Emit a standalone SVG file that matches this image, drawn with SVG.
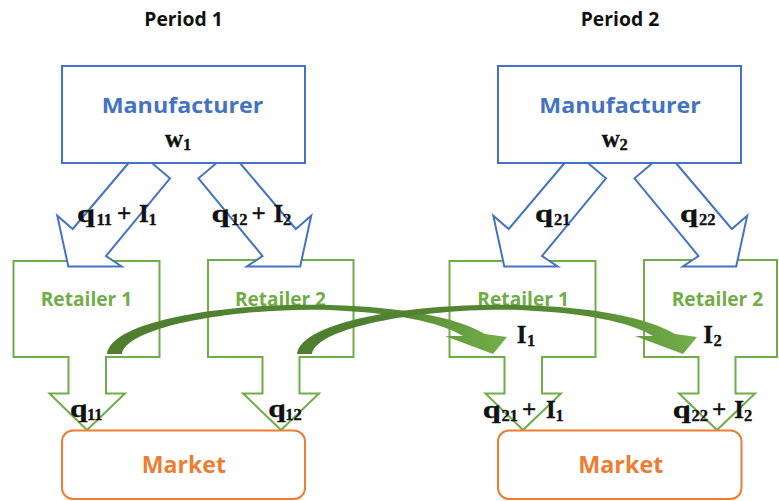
<svg xmlns="http://www.w3.org/2000/svg" width="779" height="501" viewBox="0 0 779 501">
<style>
.mfr{fill:#fff;stroke:#4472C4;stroke-width:2}
.blk{fill:#fff;stroke:#4472C4;stroke-width:2;stroke-linejoin:miter}
.ret{fill:#fff;stroke:#70AD47;stroke-width:2}
.mkt{fill:#fff;stroke:#ED7D31;stroke-width:2}
.hd{font-family:"Open Sans","Liberation Sans",sans-serif;font-weight:700}
.per{font-size:19.5px;fill:#111}
.mt{font-size:22px;fill:#4472C4}
.rt{font-size:19px;fill:#70AD47}
.kt{font-size:24px;fill:#ED7D31}
.m{font-family:"Liberation Serif","DejaVu Serif",serif;font-weight:700;fill:#111;font-size:25px;stroke:#111;stroke-width:0.35}
.s{font-size:16.5px}
</style>
<defs>
<linearGradient id="gg" gradientUnits="userSpaceOnUse" x1="107" y1="0" x2="507" y2="0">
<stop offset="0" stop-color="#4E7E2E"/>
<stop offset="0.72" stop-color="#558934"/>
<stop offset="1" stop-color="#73AF49"/>
</linearGradient>
<path id="curve" d="M107,354 C112,318 240,302 330,305 C405,307 458,318 485,334 L507,337 L493,354 L445,336 L463,336 C440,322 395,313 330,310 C245,307 127,325 122,354 Z" fill="url(#gg)"/>
<polygon id="arrA" class="blk" points="138.3,151.5 170,178.3 106,256 121.7,266.5 68.3,266.5 57.3,215.7 72.7,229"/>
<polygon id="arrB" class="blk" points="230.2,151.5 198.5,178.3 262.5,256 246.8,266.5 300.2,266.5 311.2,215.7 295.8,229"/>
</defs>

<text class="hd per" x="144.3" y="26" textLength="78.4" lengthAdjust="spacingAndGlyphs">Period 1</text>
<text class="hd per" x="580.7" y="26" textLength="78.6" lengthAdjust="spacingAndGlyphs">Period 2</text>

<!-- retailers -->
<g id="retailer1-p1">
<path class="ret" d="M13.5,261 H159.5 V357 H106 V393.5 H125 L87,430 L49.5,393.5 H68.5 V357 H13.5 Z"/>
<text class="hd rt" x="40.7" y="305.5" textLength="91.6" lengthAdjust="spacingAndGlyphs">Retailer 1</text>
</g>
<g id="retailer2-p1">
<path class="ret" d="M208,260 H353.5 V357 H299.5 V393.5 H319 L281,430 L243,393.5 H262.5 V357 H208 Z"/>
<text class="hd rt" x="235" y="305.5" textLength="91" lengthAdjust="spacingAndGlyphs">Retailer 2</text>
</g>
<g id="retailer1-p2">
<path class="ret" d="M449.5,261 H595.5 V357 H542 V393.5 H561 L523,430 L485.5,393.5 H504.5 V357 H449.5 Z"/>
<text class="hd rt" x="477.3" y="306" textLength="91.7" lengthAdjust="spacingAndGlyphs">Retailer 1</text>
</g>
<g id="retailer2-p2">
<path class="ret" d="M644,260 H777 V357 H735.5 V393.5 H755 L717,430 L679,393.5 H698.5 V357 H644 Z"/>
<text class="hd rt" x="671.7" y="305.5" textLength="91.6" lengthAdjust="spacingAndGlyphs">Retailer 2</text>
</g>

<!-- connectors -->
<g id="connectors">
<use href="#arrA"/>
<use href="#arrB"/>
<use href="#arrA" transform="translate(436,0)"/>
<use href="#arrB" transform="translate(436,0)"/>
<use href="#curve"/>
<use href="#curve" transform="translate(190,0)"/>
</g>

<!-- manufacturers -->
<g id="manufacturer-p1">
<rect class="mfr" x="62" y="66" width="243" height="97"/>
<text class="hd mt" x="101.7" y="112.7" textLength="161.6" lengthAdjust="spacingAndGlyphs">Manufacturer</text>
<text class="m" x="165" y="146.5">w</text><text class="m s" x="183" y="149.5">1</text>
</g>
<g id="manufacturer-p2">
<rect class="mfr" x="498" y="66" width="243" height="97"/>
<text class="hd mt" x="539.3" y="112.7" textLength="161.4" lengthAdjust="spacingAndGlyphs">Manufacturer</text>
<text class="m" x="601.7" y="146.5">w</text><text class="m s" x="619.5" y="149.5">2</text>
</g>

<!-- markets -->
<g id="market-p1">
<rect class="mkt" x="62" y="430.5" width="243" height="68.5" rx="11"/>
<text class="hd kt" x="141.7" y="472.7" textLength="84.3" lengthAdjust="spacingAndGlyphs">Market</text>
</g>
<g id="market-p2">
<rect class="mkt" x="498" y="430.5" width="243.5" height="68.5" rx="11"/>
<text class="hd kt" x="578.3" y="472.7" textLength="85" lengthAdjust="spacingAndGlyphs">Market</text>
</g>

<!-- flow labels -->
<g id="lbl-q11-I1">
<text class="m" x="77" y="222" textLength="18" lengthAdjust="spacingAndGlyphs">q</text><text class="m s" x="96.5" y="225">11</text>
<text class="m" x="117" y="222">+</text><text class="m" x="139" y="222">I</text><text class="m s" x="148.5" y="225">1</text>
</g>
<g id="lbl-q12-I2">
<text class="m" x="211.5" y="222" textLength="18" lengthAdjust="spacingAndGlyphs">q</text><text class="m s" x="231" y="225">12</text>
<text class="m" x="251.5" y="222">+</text><text class="m" x="273.5" y="222">I</text><text class="m s" x="283" y="225">2</text>
</g>
<g id="lbl-q21">
<text class="m" x="535" y="222" textLength="18" lengthAdjust="spacingAndGlyphs">q</text><text class="m s" x="554" y="225">21</text>
</g>
<g id="lbl-q22">
<text class="m" x="680" y="222" textLength="18" lengthAdjust="spacingAndGlyphs">q</text><text class="m s" x="699" y="225">22</text>
</g>
<g id="lbl-I1">
<text class="m" x="516.7" y="343">I</text><text class="m s" x="527" y="346">1</text>
</g>
<g id="lbl-I2">
<text class="m" x="703.3" y="343">I</text><text class="m s" x="713.5" y="346">2</text>
</g>
<g id="lbl-q11">
<text class="m" x="70" y="416.5" textLength="17.5" lengthAdjust="spacingAndGlyphs">q</text><text class="m s" x="87" y="419.5">11</text>
</g>
<g id="lbl-q12">
<text class="m" x="268.3" y="416.5" textLength="17.5" lengthAdjust="spacingAndGlyphs">q</text><text class="m s" x="285.3" y="419.5">12</text>
</g>
<g id="lbl-q21-I1">
<text class="m" x="482.7" y="417.5" textLength="18" lengthAdjust="spacingAndGlyphs">q</text><text class="m s" x="501.5" y="420.5">21</text>
<text class="m" x="522" y="417.5">+</text><text class="m" x="546" y="417.5">I</text><text class="m s" x="555.5" y="420.5">1</text>
</g>
<g id="lbl-q22-I2">
<text class="m" x="672.7" y="417.5" textLength="18" lengthAdjust="spacingAndGlyphs">q</text><text class="m s" x="691.5" y="420.5">22</text>
<text class="m" x="712" y="417.5">+</text><text class="m" x="734.3" y="417.5">I</text><text class="m s" x="744" y="420.5">2</text>
</g>
</svg>
